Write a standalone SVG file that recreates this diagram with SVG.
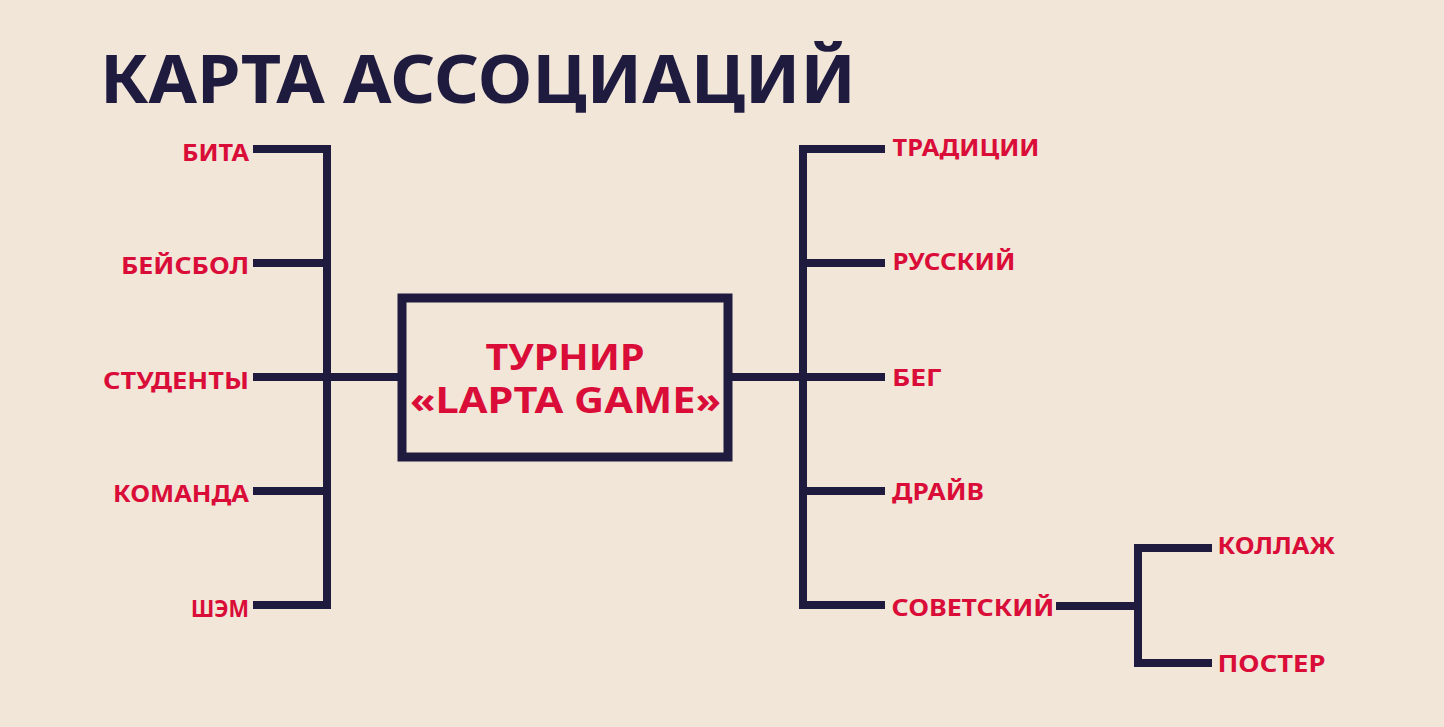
<svg xmlns="http://www.w3.org/2000/svg" width="1444" height="727" viewBox="0 0 1444 727">
  <style>
    .bg { fill: #F2E6D9; }
    .ln { fill: none; stroke: #1E1B3F; stroke-width: 8; stroke-linecap: butt; stroke-linejoin: miter; }
    .box { fill: none; stroke: #1E1B3F; stroke-width: 9; }
    .title { font-family: "Noto Sans", "DejaVu Sans", sans-serif; font-weight: 700; font-size: 66px; fill: #1E1B3F; }
    .lbl { font-family: "Noto Sans", "DejaVu Sans", sans-serif; font-weight: 700; font-size: 24px; fill: #D90D38; }
    .ctr { font-family: "Noto Sans", "DejaVu Sans", sans-serif; font-weight: 700; font-size: 35px; fill: #D90D38; }
  </style>
  <rect class="bg" x="0" y="0" width="1444" height="727"/>

  <g id="title">
    <text class="title" x="100" y="102.5" textLength="756" lengthAdjust="spacingAndGlyphs">КАРТА АССОЦИАЦИЙ</text>
  </g>

  <g id="connectors">
    <path class="ln" d="M253 149 H327 V605 H253"/>
    <path class="ln" d="M253 263 H327"/>
    <path class="ln" d="M253 377 H398"/>
    <path class="ln" d="M253 491 H327"/>
    <path class="ln" d="M732 377 H803"/>
    <path class="ln" d="M885 149 H803 V605 H885"/>
    <path class="ln" d="M803 263 H885"/>
    <path class="ln" d="M803 377 H885"/>
    <path class="ln" d="M803 491 H885"/>
    <path class="ln" d="M1056 606 H1138"/>
    <path class="ln" d="M1212 548 H1138 V663 H1212"/>
  </g>

  <g id="center">
    <rect class="box" x="402" y="298" width="326" height="159"/>
    <text class="ctr" x="565" y="370" text-anchor="middle" textLength="159" lengthAdjust="spacingAndGlyphs">ТУРНИР</text>
    <text class="ctr" x="565.5" y="412.7" text-anchor="middle" textLength="311" lengthAdjust="spacingAndGlyphs">«LAPTA GAME»</text>
  </g>

  <g id="bita"><text class="lbl" x="249" y="161" text-anchor="end" textLength="67" lengthAdjust="spacingAndGlyphs">БИТА</text></g>
  <g id="beisbol"><text class="lbl" x="249" y="274" text-anchor="end" textLength="128" lengthAdjust="spacingAndGlyphs">БЕЙСБОЛ</text></g>
  <g id="studenty"><text class="lbl" x="249" y="388.5" text-anchor="end" textLength="146" lengthAdjust="spacingAndGlyphs">СТУДЕНТЫ</text></g>
  <g id="komanda"><text class="lbl" x="249" y="501.5" text-anchor="end" textLength="136" lengthAdjust="spacingAndGlyphs">КОМАНДА</text></g>
  <g id="shem"><text class="lbl" x="249" y="616.5" text-anchor="end" textLength="58" lengthAdjust="spacingAndGlyphs">ШЭМ</text></g>

  <g id="tradicii"><text class="lbl" x="892.5" y="156" textLength="147" lengthAdjust="spacingAndGlyphs">ТРАДИЦИИ</text></g>
  <g id="russkiy"><text class="lbl" x="892.5" y="270" textLength="123" lengthAdjust="spacingAndGlyphs">РУССКИЙ</text></g>
  <g id="beg"><text class="lbl" x="892" y="385.7" textLength="50" lengthAdjust="spacingAndGlyphs">БЕГ</text></g>
  <g id="drayv"><text class="lbl" x="892" y="500" textLength="92" lengthAdjust="spacingAndGlyphs">ДРАЙВ</text></g>
  <g id="sovetskiy"><text class="lbl" x="891.5" y="615.7" textLength="163" lengthAdjust="spacingAndGlyphs">СОВЕТСКИЙ</text></g>
  <g id="kollazh"><text class="lbl" x="1217.5" y="554.3" textLength="117.5" lengthAdjust="spacingAndGlyphs">КОЛЛАЖ</text></g>
  <g id="poster"><text class="lbl" x="1217.5" y="671.7" textLength="108" lengthAdjust="spacingAndGlyphs">ПОСТЕР</text></g>
</svg>
